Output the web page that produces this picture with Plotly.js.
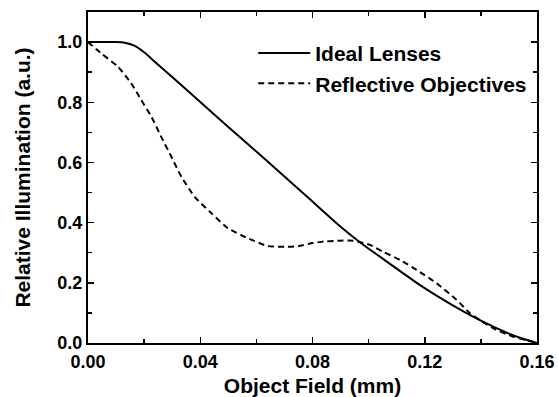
<!DOCTYPE html>
<html>
<head>
<meta charset="utf-8">
<script src="https://cdn.plot.ly/plotly-3.0.1.min.js"></script>
<style>html,body{margin:0;padding:0;background:#fff}#chart{width:558px;height:397px}</style>
</head>
<body>
<div id="chart"></div>
<script>
const idealX = [0, 0.005, 0.010, 0.0131, 0.0165, 0.020, 0.0238, 0.030, 0.040, 0.050, 0.060, 0.070, 0.080, 0.0898, 0.0969, 0.1076, 0.119, 0.130, 0.140, 0.150, 0.155, 0.160];
const idealY = [1.0, 1.0, 1.0, 0.998, 0.988, 0.966, 0.935, 0.884, 0.801, 0.718, 0.636, 0.553, 0.470, 0.388, 0.335, 0.263, 0.188, 0.125, 0.074, 0.031, 0.014, 0.0];
const reflX = [0, 0.0048, 0.0107, 0.0154, 0.019, 0.0226, 0.0261, 0.0297, 0.0333, 0.038, 0.044, 0.0499, 0.057, 0.0641, 0.0701, 0.075, 0.080, 0.085, 0.0898, 0.0945, 0.1005, 0.1052, 0.1112, 0.1171, 0.1243, 0.1314, 0.1361, 0.1397, 0.1450, 0.1515, 0.1560, 0.160];
const reflY = [1.0, 0.962, 0.918, 0.863, 0.807, 0.752, 0.685, 0.619, 0.552, 0.486, 0.431, 0.381, 0.348, 0.322, 0.320, 0.322, 0.332, 0.338, 0.340, 0.340, 0.326, 0.303, 0.276, 0.243, 0.198, 0.143, 0.099, 0.076, 0.046, 0.021, 0.010, 0.0];
const seriesNames = ["Ideal Lenses", "Reflective Objectives"];
const xTicks = [0, 0.04, 0.08, 0.12, 0.16];
const xTickText = ["0.00", "0.04", "0.08", "0.12", "0.16"];
const yTicks = [0, 0.2, 0.4, 0.6, 0.8, 1.0];
const yTickText = ["0.0", "0.2", "0.4", "0.6", "0.8", "1.0"];

const fam = "Liberation Sans, Arial, sans-serif";
const traces = [
  {x: idealX, y: idealY, name: seriesNames[0], mode: "lines", line: {color: "#000", width: 2, shape: "spline", smoothing: 0.4}},
  {x: reflX, y: reflY, name: seriesNames[1], mode: "lines", line: {color: "#000", width: 2, dash: "6px,4px", shape: "spline", smoothing: 0.5}}
];
const axisCommon = {
  showgrid: false, zeroline: false, showline: true, linecolor: "#000", linewidth: 2,
  mirror: "allticks", ticks: "inside", ticklen: 6, tickwidth: 1.5, tickcolor: "#000",
  tickfont: {family: fam, size: 18, color: "#000", weight: "bold"},
  minor: {ticks: "inside", ticklen: 4, tickwidth: 1.5, tickcolor: "#000"}
};
const layout = {
  width: 558, height: 397,
  margin: {l: 88, r: 21, t: 12, b: 54},
  paper_bgcolor: "#fff", plot_bgcolor: "#fff",
  showlegend: true,
  legend: {x: 0.368, y: 0.937, xanchor: "left", yanchor: "top", bgcolor: "rgba(0,0,0,0)",
    font: {family: fam, size: 21, color: "#000", weight: "bold"}, itemwidth: 52},
  xaxis: Object.assign({}, axisCommon, {
    range: [0, 0.16], tickmode: "array", tickvals: xTicks, ticktext: xTickText,
    minor: Object.assign({}, axisCommon.minor, {dtick: 0.02, tick0: 0}),
    ticklabelstandoff: 1,
    title: {text: "Object Field (mm)", font: {family: fam, size: 21, color: "#000", weight: "bold"}, standoff: 11}
  }),
  yaxis: Object.assign({}, axisCommon, {
    range: [0, 1.1], tickmode: "array", tickvals: yTicks, ticktext: yTickText,
    minor: Object.assign({}, axisCommon.minor, {dtick: 0.1, tick0: 0}),
    title: {text: "Relative Illumination (a.u.)", font: {family: fam, size: 21, color: "#000", weight: "bold"}, standoff: 21}
  })
};
Plotly.newPlot("chart", traces, layout, {staticPlot: true, displayModeBar: false});
</script>
</body>
</html>
